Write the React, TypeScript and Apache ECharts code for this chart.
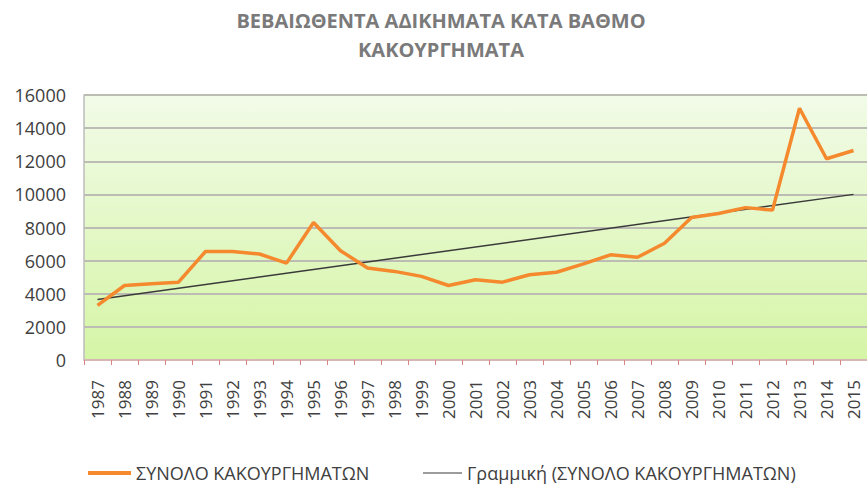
import React, { useEffect, useRef } from "react";
import * as echarts from "echarts";

const titleText = "ΒΕΒΑΙΩΘΕΝΤΑ ΑΔΙΚΗΜΑΤΑ ΚΑΤΑ ΒΑΘΜΟ\nΚΑΚΟΥΡΓΗΜΑΤΑ";
const seriesName = "ΣΥΝΟΛΟ ΚΑΚΟΥΡΓΗΜΑΤΩΝ";
const trendName = "Γραμμική (ΣΥΝΟΛΟ ΚΑΚΟΥΡΓΗΜΑΤΩΝ)";

const years = [
  "1987", "1988", "1989", "1990", "1991", "1992", "1993", "1994", "1995", "1996",
  "1997", "1998", "1999", "2000", "2001", "2002", "2003", "2004", "2005", "2006",
  "2007", "2008", "2009", "2010", "2011", "2012", "2013", "2014", "2015",
];

const totals = [
  3300, 4500, 4600, 4700, 6550, 6550, 6400, 5850, 8300, 6600,
  5550, 5350, 5050, 4500, 4850, 4700, 5150, 5300, 5800, 6350,
  6200, 7050, 8600, 8850, 9200, 9050, 15200, 12150, 12650,
];

// linear trendline end values (first and last year)
const trendStart = 3650;
const trendEnd = 10000;

const yTicks = { min: 0, max: 16000, interval: 2000 };

export default function App() {
  const ref = useRef<HTMLDivElement>(null);

  useEffect(() => {
    if (!ref.current) return;
    document.body.style.margin = "0";
    const chart = echarts.init(ref.current, undefined, { renderer: "svg" });
    const trendData = years.map((_, i) =>
      i === 0 ? trendStart : i === years.length - 1 ? trendEnd : null
    );
    chart.setOption({
      animation: false,
      backgroundColor: "#ffffff",
      textStyle: { fontFamily: "Open Sans" },
      title: {
        text: titleText,
        left: 441,
        top: 6,
        padding: 0,
        textAlign: "center",
        textStyle: {
          fontFamily: "Open Sans",
          fontSize: 20,
          fontWeight: "bold",
          color: "#7a7a7a",
          lineHeight: 29,
        },
      },
      legend: [
        {
          left: 83,
          top: 459,
          icon: "rect",
          itemWidth: 43,
          itemHeight: 4,
          data: [{ name: seriesName }],
          textStyle: { fontFamily: "Open Sans", fontSize: 18, color: "#404040" },
        },
        {
          left: 418,
          top: 459,
          icon: "rect",
          itemWidth: 39,
          itemHeight: 1,
          data: [{ name: trendName }],
          textStyle: { fontFamily: "Open Sans", fontSize: 18, color: "#404040" },
        },
      ],
      grid: {
        left: 84,
        right: 0,
        top: 95,
        bottom: 129,
        outerBoundsMode: "none",
        containLabel: false,
        show: true,
        borderWidth: 0,
        backgroundColor: {
          type: "linear",
          x: 0,
          y: 0,
          x2: 0,
          y2: 1,
          colorStops: [
            { offset: 0, color: "#f2fbe8" },
            { offset: 1, color: "#d5f5a6" },
          ],
        },
      },
      xAxis: {
        type: "category",
        data: years,
        boundaryGap: true,
        axisLine: { show: true, lineStyle: { color: "#e2b4b4", width: 1.5 } },
        axisTick: { show: true, length: 5, lineStyle: { color: "#d98585", width: 1 } },
        axisLabel: {
          rotate: 90,
          margin: 20,
          fontFamily: "Open Sans",
          fontSize: 17,
          color: "#404040",
          interval: 0,
        },
        splitLine: { show: false },
      },
      yAxis: {
        type: "value",
        min: yTicks.min,
        max: yTicks.max,
        interval: yTicks.interval,
        axisLine: { show: true, lineStyle: { color: "#bdbdbd", width: 1.5 } },
        axisTick: { show: false },
        axisLabel: {
          margin: 18,
          fontFamily: "Open Sans",
          fontSize: 18,
          color: "#404040",
          formatter: (v: number) => String(v),
        },
        splitLine: { show: true, lineStyle: { color: "#bcbcb4", width: 2 } },
      },
      series: [
        {
          name: seriesName,
          type: "line",
          data: totals,
          symbol: "none",
          lineStyle: { color: "#f5892e", width: 3.5 },
          itemStyle: { color: "#f5892e" },
          z: 3,
        },
        {
          name: trendName,
          type: "line",
          data: trendData,
          connectNulls: true,
          symbol: "none",
          lineStyle: { color: "#3a3a3a", width: 1.5 },
          itemStyle: { color: "#3a3a3a" },
          z: 2,
        },
      ],
    });
    return () => chart.dispose();
  }, []);

  return (
    <div
      ref={ref}
      style={{ position: "absolute", left: 0, top: 0, width: 867, height: 489 }}
    />
  );
}
